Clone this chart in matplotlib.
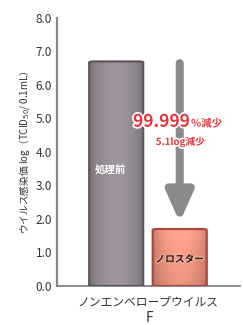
import matplotlib
matplotlib.use("Agg")
import matplotlib.pyplot as plt
import matplotlib.patches as patches
import matplotlib.patheffects as pe
import numpy as np

plt.rcParams["font.family"] = ["Noto Sans CJK JP", "DejaVu Sans"]

# ---------------- data ----------------
bar_labels = ["処理前", "ノロスター"]
values = [6.7, 1.7]
category = "ノンエンベロープウイルス"
panel = "F"
yticks = [0.0, 1.0, 2.0, 3.0, 4.0, 5.0, 6.0, 7.0, 8.0]
reduction_pct = "99.999"
reduction_log = "5.1"

FACE = ["#968c94", "#e08c78"]
EDGE = ["#5e5760", "#a8473d"]
RED = "#e8353c"

fig = plt.figure(figsize=(2.43, 3.25), dpi=100)
ax = fig.add_axes([0.235, 0.12, 0.753, 0.825])

x = np.arange(len(values))
bars = ax.bar(x, values, width=0.85, color="none", edgecolor="none")

for i, b in enumerate(bars):
    bx, by = b.get_x(), b.get_y()
    bw, bh = b.get_width(), b.get_height()
    p = patches.FancyBboxPatch((bx, by), bw, bh,
                               boxstyle="round,pad=0,rounding_size=0.08",
                               mutation_aspect=0.35,
                               fc=FACE[i], ec="none", zorder=2)
    ax.add_patch(p)
    # soft gradient inside the bar
    g = np.linspace(-1, 1, 64)
    shade = 1 - 0.22 * g ** 2
    img = np.tile(shade, (16, 1))
    if i == 1:
        img = img * np.linspace(1.0, 1.12, 16)[:, None]
    base = np.array(matplotlib.colors.to_rgb(FACE[i]))
    rgb = np.clip(img[..., None] * base[None, None, :] * 1.06, 0, 1)
    im = ax.imshow(rgb, extent=(bx, bx + bw, by, by + bh), aspect="auto",
                   origin="lower", zorder=2.5, interpolation="bilinear")
    im.set_clip_path(p)
    edge = patches.FancyBboxPatch((bx, by), bw, bh,
                                  boxstyle="round,pad=0,rounding_size=0.08",
                                  mutation_aspect=0.35,
                                  fc="none", ec=EDGE[i], lw=1.6, zorder=3)
    ax.add_patch(edge)

# labels inside bars
ax.text(x[0] - 0.09, 3.45, bar_labels[0], ha="center", va="center",
        fontsize=7.5, color="white", weight="bold", zorder=4)
ax.text(x[1], 0.8, bar_labels[1], ha="center", va="center",
        fontsize=7, color="#2a1a1a", weight="bold", zorder=4,
        path_effects=[pe.withStroke(linewidth=1.5, foreground="#f0b0a0")])

# reduction arrow
ax.annotate("", xy=(x[1], values[1] + 0.2), xytext=(x[1], values[0] - 0.05),
            arrowprops=dict(arrowstyle="-|>,head_width=0.8,head_length=1.8",
                            lw=5.8, color="#8a8a8a", shrinkA=0, shrinkB=0),
            zorder=3)

# reduction text
stroke = [pe.withStroke(linewidth=2.4, foreground="white")]
ax.text(x[1] + 0.16, 4.9, reduction_pct, ha="right", va="center",
        fontsize=12.5, color=RED, weight="bold", zorder=5, path_effects=stroke)
ax.text(x[1] + 0.18, 4.85, "%減少", ha="left", va="center",
        fontsize=7.5, color=RED, weight="bold", zorder=5, path_effects=stroke)
ax.text(x[1] + 0.01, 4.3, reduction_log + "log減少", ha="center", va="center",
        fontsize=7, color=RED, weight="bold", zorder=5, path_effects=stroke)

# axes styling
ax.set_xlim(-0.93, 1.95)
ax.set_ylim(0, 8)
ax.set_yticks(yticks)
ax.set_yticklabels([f"{v:.1f}" for v in yticks], fontsize=8.5, color="#333333")
ax.tick_params(axis="y", length=0, pad=3.5)
ax.set_xticks([])
for s in ["top", "right"]:
    ax.spines[s].set_visible(False)
ax.spines["left"].set_color("#888888")
ax.spines["left"].set_linewidth(1.6)
ax.spines["bottom"].set_color("#777777")
ax.spines["bottom"].set_linewidth(1.2)
ax.set_ylabel("ウイルス感染価 log（TCID$_{50}$/ 0.1mL）", fontsize=7,
              color="#333333", labelpad=3)

fig.text(0.61, 0.07, category, ha="center", va="center", fontsize=8.5,
         color="#333333")
fig.text(0.615, 0.022, panel, ha="center", va="center", fontsize=10,
         color="#333333")

fig.savefig("out.png", dpi=100)
